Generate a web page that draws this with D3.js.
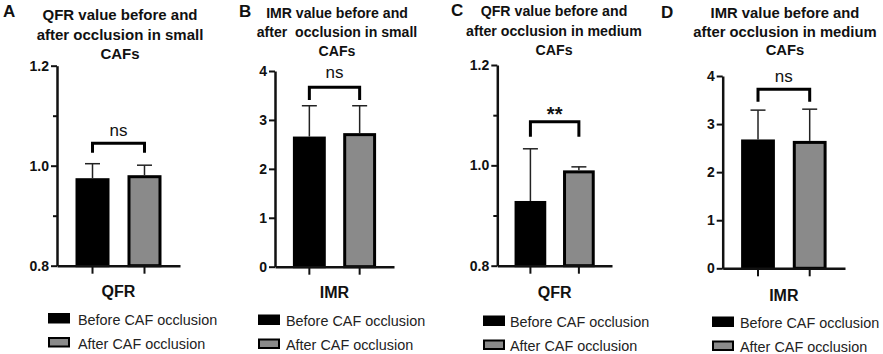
<!DOCTYPE html>
<html>
<head>
<meta charset="utf-8">
<script src="https://cdn.jsdelivr.net/npm/d3@7"></script>
<style>
  html, body { margin: 0; padding: 0; background: #fff; }
  svg { display: block; font-family: "Liberation Sans", Arial, sans-serif; }
</style>
</head>
<body>
<svg id="chart" width="883" height="354"></svg>
<script>
// ---------- data ----------
const panelLetters = ["A", "B", "C", "D"];
const panelTitles = [
  ["QFR value before and", "after occlusion in small", "CAFs"],
  ["IMR value before and", "after  occlusion in small", "CAFs"],
  ["QFR value before and", "after occlusion in medium", "CAFs"],
  ["IMR value before and", "after occlusion in medium", "CAFs"]
];
const metrics = ["QFR", "IMR", "QFR", "IMR"];
const groups = ["Before CAF occlusion", "After CAF occlusion"];
const beforeMeans = [0.975, 2.66, 0.929, 2.68];
const beforeSD    = [0.029, 0.63, 0.104, 0.61];
const afterMeans  = [0.981, 2.73, 0.990, 2.65];
const afterSD     = [0.020, 0.56, 0.007, 0.66];
const significance = ["ns", "ns", "**", "ns"];
const qfrDomain = [0.8, 1.2];
const qfrTicks = [0.8, 1.0, 1.2];
const qfrMinorTicks = [0.9, 1.1];
const imrDomain = [0, 4];
const imrTicks = [0, 1, 2, 3, 4];

// ---------- layout ----------
const layout = [
  { x0: 57,    x1: 180, yTop: 65.7, yBot: 265.7, titleX: 120, titleSize: 15,   titleY: [20, 40, 59],
    letterX: 3,   letterY: 17,
    brTop: 143.3, brLeg: 152.7, sigY: 135.5, labelY: 297, lgSq: 48,  lgTx: 78,  lgY: 313 },
  { x0: 275,   x1: 394, yTop: 71,   yBot: 266.7, titleX: 337, titleSize: 14.1, titleY: [18, 37, 55.5],
    letterX: 239, letterY: 17,
    brTop: 87.3,  brLeg: 100,   sigY: 78,    labelY: 298, lgSq: 258, lgTx: 286, lgY: 314.5 },
  { x0: 497.3, x1: 612, yTop: 65,   yBot: 265.7, titleX: 554, titleSize: 14.2, titleY: [15.5, 35.5, 55],
    letterX: 451, letterY: 16,
    brTop: 121.7, brLeg: 136.7, sigY: 121,   labelY: 298, lgSq: 483, lgTx: 510, lgY: 315.5 },
  { x0: 722.7, x1: 845, yTop: 76,   yBot: 268.3, titleX: 785, titleSize: 14.8, titleY: [18.3, 37.3, 54.5],
    letterX: 661, letterY: 18,
    brTop: 89.3,  brLeg: 101.7, sigY: 81.5,  labelY: 301, lgSq: 712, lgTx: 740, lgY: 316.5 }
];
const legendRowGap = 24;
const fills = ["#000000", "#8a8a8a"];

const svg = d3.select("#chart");

panelLetters.forEach((letter, i) => {
  const L = layout[i];
  const isQFR = metrics[i] === "QFR";
  const g = svg.append("g");

  // panel letter
  g.append("text").attr("x", L.letterX).attr("y", L.letterY)
    .attr("font-size", 17).attr("font-weight", "bold").attr("fill", "#111").text(letter);

  // title
  panelTitles[i].forEach((line, k) => {
    g.append("text").attr("x", L.titleX).attr("y", L.titleY[k])
      .attr("text-anchor", "middle").attr("font-size", L.titleSize).attr("font-weight", "bold")
      .attr("fill", "#111").attr("xml:space", "preserve").style("white-space", "pre").text(line);
  });

  // scales
  const y = d3.scaleLinear().domain(isQFR ? qfrDomain : imrDomain).range([L.yBot, L.yTop]);
  const x = d3.scaleBand().domain(groups).range([L.x0, L.x1]).paddingInner(0.346).paddingOuter(0.356);

  const means = [beforeMeans[i], afterMeans[i]];
  const sds = [beforeSD[i], afterSD[i]];

  // bars
  groups.forEach((grp, j) => {
    g.append("rect")
      .attr("x", x(grp) + 1.5).attr("width", x.bandwidth() - 3)
      .attr("y", y(means[j]) + 1.5).attr("height", y.range()[0] - y(means[j]) - 1.5)
      .attr("fill", fills[j]).attr("stroke", "#000").attr("stroke-width", 3);
  });

  // error bars (upper only)
  groups.forEach((grp, j) => {
    const c = x(grp) + x.bandwidth() / 2;
    const yt = y(means[j] + sds[j]);
    g.append("line").attr("x1", c).attr("x2", c).attr("y1", y(means[j])).attr("y2", yt)
      .attr("stroke", "#222").attr("stroke-width", 1.5);
    g.append("line").attr("x1", c - 7.5).attr("x2", c + 7.5).attr("y1", yt).attr("y2", yt)
      .attr("stroke", "#222").attr("stroke-width", 1.5);
  });

  // y axis
  const yAxis = d3.axisLeft(y).tickValues(isQFR ? qfrTicks : imrTicks)
    .tickFormat(isQFR ? d3.format(".1f") : d3.format("d"))
    .tickSize(6).tickSizeOuter(0).tickPadding(2);
  const ya = g.append("g").attr("transform", `translate(${L.x0},0)`).call(yAxis);
  ya.select(".domain").attr("stroke", "#111").attr("stroke-width", 2.5);
  ya.selectAll(".tick line").attr("stroke", "#111").attr("stroke-width", 2);
  ya.selectAll(".tick text").attr("font-size", 14).attr("font-weight", "bold")
    .attr("fill", "#111").attr("font-family", "Liberation Sans, Arial, sans-serif");
  if (isQFR) {
    const ym = g.append("g").attr("transform", `translate(${L.x0},0)`)
      .call(d3.axisLeft(y).tickValues(qfrMinorTicks).tickSize(4).tickFormat(""));
    ym.select(".domain").remove();
    ym.selectAll(".tick line").attr("stroke", "#111").attr("stroke-width", 2);
  }

  // x axis
  const xa = g.append("g").attr("transform", `translate(0,${L.yBot})`)
    .call(d3.axisBottom(x).tickSize(8).tickSizeOuter(0).tickFormat(""));
  xa.select(".domain").attr("stroke", "#111").attr("stroke-width", 2.5);
  xa.selectAll(".tick line").attr("stroke", "#111").attr("stroke-width", 2);

  // x label
  const xc = (x(groups[0]) + x(groups[1]) + x.bandwidth()) / 2;
  g.append("text").attr("x", xc).attr("y", L.labelY).attr("text-anchor", "middle")
    .attr("font-size", 16).attr("font-weight", "bold").attr("fill", "#111").text(metrics[i]);

  // significance bracket
  const c0 = x(groups[0]) + x.bandwidth() / 2;
  const c1 = x(groups[1]) + x.bandwidth() / 2;
  g.append("path")
    .attr("d", `M${c0},${L.brLeg}V${L.brTop}H${c1}V${L.brLeg}`)
    .attr("fill", "none").attr("stroke", "#000").attr("stroke-width", 3);
  const isStar = significance[i] !== "ns";
  g.append("text").attr("x", (c0 + c1) / 2).attr("y", L.sigY).attr("text-anchor", "middle")
    .attr("font-size", isStar ? 20 : 17).attr("font-weight", isStar ? "bold" : "normal")
    .attr("fill", "#111").text(significance[i]);

  // legend
  groups.forEach((grp, j) => {
    const yy = L.lgY + j * legendRowGap;
    g.append("rect").attr("x", L.lgSq + 1).attr("y", yy + 1).attr("width", 20).attr("height", 8.5)
      .attr("fill", fills[j]).attr("stroke", "#000").attr("stroke-width", 2);
    g.append("text").attr("x", L.lgTx).attr("y", yy + 11.5).attr("font-size", 14.4)
      .attr("fill", "#222").text(grp);
  });
});
</script>
</body>
</html>
